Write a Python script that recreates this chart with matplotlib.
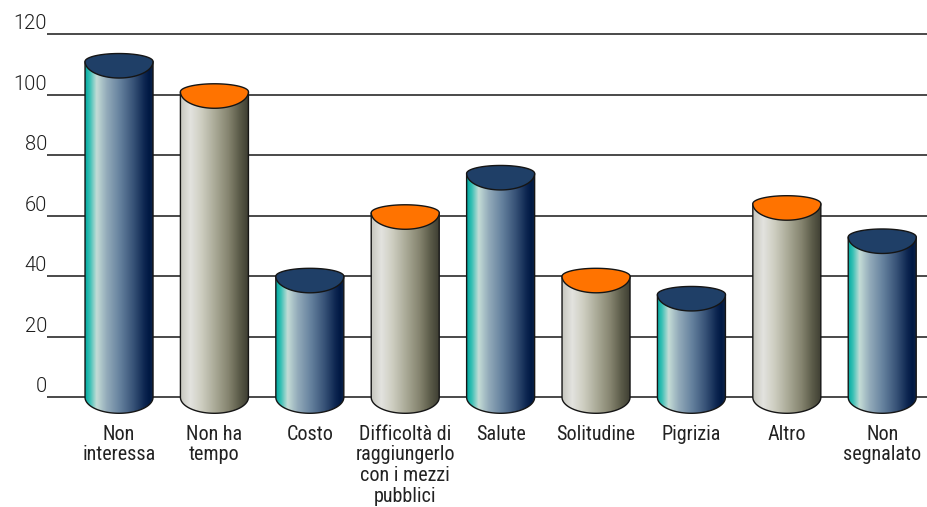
import numpy as np
import matplotlib
matplotlib.use("Agg")
import matplotlib.pyplot as plt
from matplotlib.path import Path
from matplotlib.patches import PathPatch
from matplotlib.colors import LinearSegmentedColormap
from matplotlib import font_manager

# ---- data ----
categories = ["Non\ninteressa", "Non ha\ntempo", "Costo",
              "Difficoltà di\nraggiungerlo\ncon i mezzi\npubblici",
              "Salute", "Solitudine", "Pigrizia", "Altro", "Non\nsegnalato"]
values = [111, 101, 40, 61, 74, 40, 34, 64, 53]
y_ticks = [0, 20, 40, 60, 80, 100, 120]

# ---- fonts ----
names = {f.name for f in font_manager.fontManager.ttflist}


def first_font(options):
    for name in options:
        if name in names:
            return name
    return "DejaVu Sans"


label_font = first_font(["Roboto Condensed", "Archivo Narrow", "PT Sans Narrow",
                         "Liberation Sans Narrow", "Liberation Sans"])
tick_font = first_font(["Roboto", "Lato", "Liberation Sans"])

# ---- geometry (pixels -> data units) ----
W, H = 928, 507
PX_X = 95.4      # pixels per category
PX_Y = 3.025     # pixels per value unit
x_left = -0.755 - 47 / PX_X
x_right = x_left + W / PX_X
y_bottom = -(H - 397.3) / PX_Y
y_top = y_bottom + H / PX_Y

half_w = 34 / PX_X
bot_depth = 16 / PX_Y
top_up = 8 / PX_Y
top_lo = 16.5 / PX_Y

blue_cmap = LinearSegmentedColormap.from_list("blue_cyl", [
    (0.00, "#00a8a0"), (0.07, "#38c0b4"), (0.17, "#c4dcd6"), (0.32, "#93abba"),
    (0.52, "#64809d"), (0.72, "#365176"), (0.88, "#0c2550"), (0.95, "#001843"),
    (1.00, "#0b2349")])
grey_cmap = LinearSegmentedColormap.from_list("grey_cyl", [
    (0.00, "#c6c6be"), (0.15, "#e3e3df"), (0.32, "#cdcdc0"), (0.52, "#a9a996"),
    (0.72, "#84836e"), (0.88, "#5a5a48"), (1.00, "#3f3f33")])
styles = [(blue_cmap, "#1f3f67"), (grey_cmap, "#ff7300")]

fig = plt.figure(figsize=(W / 100, H / 100), dpi=100)
ax = fig.add_axes([0, 0, 1, 1])
ax.set_axis_off()

# gridlines and value labels
grid_x0 = x_left + 47 / PX_X
for t in y_ticks:
    ax.plot([grid_x0, x_right], [t, t], color="#2b2b2b", lw=1.2, zorder=1,
            solid_capstyle="butt")
    ax.annotate(str(t), xy=(grid_x0, t), xytext=(0, 5), textcoords="offset pixels",
                ha="right", va="baseline", fontsize=14.5, family=tick_font,
                weight=300, color="#1e1e1e")


def cylinder(xc, val, cmap, top_color):
    t = np.linspace(np.pi, 2 * np.pi, 60)
    body = [(xc - half_w, val), (xc - half_w, 0)]
    body += list(zip(xc + half_w * np.cos(t), bot_depth * np.sin(t)))
    body += [(xc + half_w, val), (xc - half_w, val)]
    body_path = Path(body, closed=True)
    outline = PathPatch(body_path, facecolor="none", edgecolor="#151515",
                        lw=1.0, zorder=3)
    ax.add_patch(outline)
    grad = np.linspace(0, 1, 256)[None, :]
    im = ax.imshow(grad, cmap=cmap, aspect="auto", interpolation="bilinear",
                   extent=(xc - half_w, xc + half_w, -bot_depth, val), zorder=2)
    im.set_clip_path(outline)

    up = np.linspace(np.pi, 0, 60)
    lo = np.linspace(0, -np.pi, 60)
    top = list(zip(xc + half_w * np.cos(up), val + top_up * np.sin(up)))
    top += list(zip(xc + half_w * np.cos(lo), val + top_lo * np.sin(lo)))
    ax.add_patch(PathPatch(Path(top, closed=True), facecolor=top_color,
                           edgecolor="#151515", lw=1.0, zorder=4))


for i, (cat, v) in enumerate(zip(categories, values)):
    cmap, top_color = styles[i % 2]
    cylinder(i, v, cmap, top_color)
    ax.text(i, -(425 - 397.3) / PX_Y, cat, ha="center", va="top",
            fontsize=14.5, family=label_font, color="#222222", linespacing=1.1)

ax.set_xlim(x_left, x_right)
ax.set_ylim(y_bottom, y_top)

fig.savefig("out.png", dpi=100)
